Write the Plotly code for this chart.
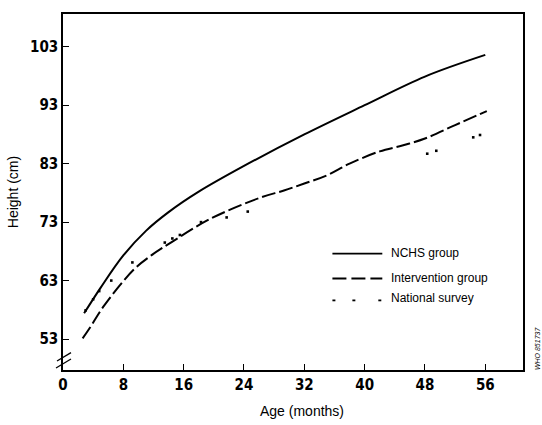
import plotly.graph_objects as go

# ---- data ----
nchs_age = [2.8, 5.0, 8.0, 11.0, 14.0, 18.0, 24, 32, 40, 48, 56]
nchs_height = [57.4, 61.8, 67.3, 71.5, 74.7, 78.2, 82.6, 88.0, 93.0, 97.9, 101.6]

interv_age = [2.6, 3.5, 5.5, 9.4, 11.7, 14.3, 19.6, 26.2, 29.3, 32, 35, 38, 42, 45, 48, 52, 56.2]
interv_height = [53.1, 54.8, 58.8, 64.9, 67.3, 69.5, 73.6, 77.2, 78.4, 79.6, 81.0, 83.0, 85.1, 86.1, 87.3, 89.6, 92.0]

survey_age = [3.0, 4.0, 4.8, 6.4, 9.2, 13.5, 14.5, 15.5, 18.3, 21.7, 24.5, 48.3, 49.5, 54.4, 55.3]
survey_height = [57.9, 59.8, 61.2, 63.0, 66.1, 69.5, 70.2, 70.8, 73.0, 73.8, 74.8, 84.7, 85.2, 87.5, 87.9]

x_ticks = [0, 8, 16, 24, 32, 40, 48, 56]
y_ticks = [53, 63, 73, 83, 93, 103]

legend_labels = ["NCHS group", "Intervention group", "National survey"]

W, H = 542, 425
ML, MR, MT, MB = 62, 19, 12, 55
PW, PH = W - ML - MR, H - MT - MB


def px(x):
    return (x - ML) / PW


def py(y):
    return (H - MB - y) / PH


fig = go.Figure()
fig.add_trace(go.Scatter(x=nchs_age, y=nchs_height, mode="lines",
                         line=dict(color="black", width=2, shape="spline", smoothing=1.0),
                         showlegend=False))
fig.add_trace(go.Scatter(x=interv_age, y=interv_height, mode="lines",
                         line=dict(color="black", width=2, shape="spline", smoothing=1.0, dash="14px,4px"),
                         showlegend=False))
fig.add_trace(go.Scatter(x=survey_age, y=survey_height, mode="markers",
                         marker=dict(color="black", size=2.6, symbol="square"),
                         showlegend=False))

tickfont = dict(family="Liberation Sans Narrow, DejaVu Sans Condensed, Arial Narrow, sans-serif",
                size=15, color="black", weight="bold")

fig.update_xaxes(range=[0, 61], tickvals=x_ticks, ticktext=[str(v) for v in x_ticks],
                 showline=True, linecolor="black", linewidth=1.5, mirror=True,
                 ticks="inside", ticklen=6, tickcolor="black", tickwidth=1,
                 showgrid=False, zeroline=False, tickfont=tickfont)
fig.update_yaxes(range=[47.7, 108.6], tickvals=y_ticks, ticktext=[str(v) for v in y_ticks],
                 showline=True, linecolor="black", linewidth=1.5, mirror=True,
                 ticks="inside", ticklen=6, tickcolor="black", tickwidth=1,
                 showgrid=False, zeroline=False, tickfont=tickfont,
                 title=dict(text="Height (cm)", font=dict(family="Liberation Sans, Arial, sans-serif", size=14, color="black"),
                            standoff=8))

shapes = []
# axis break marks
shapes.append(dict(type="line", xref="paper", yref="paper", x0=px(56), y0=py(361), x1=px(70), y1=py(352.5),
                   line=dict(color="black", width=1.3)))
shapes.append(dict(type="line", xref="paper", yref="paper", x0=px(55), y0=py(368), x1=px(70), y1=py(359),
                   line=dict(color="black", width=1.3)))
# legend samples
shapes.append(dict(type="line", xref="paper", yref="paper", x0=px(332), y0=py(253), x1=px(382), y1=py(253),
                   line=dict(color="black", width=1.8)))
shapes.append(dict(type="line", xref="paper", yref="paper", x0=px(332), y0=py(278), x1=px(382), y1=py(278),
                   line=dict(color="black", width=1.8, dash="14px,5px")))
for sx in (332, 352, 378):
    shapes.append(dict(type="line", xref="paper", yref="paper", x0=px(sx), y0=py(300), x1=px(sx + 3), y1=py(300),
                       line=dict(color="black", width=1.8)))

annotations = []
for lab, ly in zip(legend_labels, (252, 277, 298)):
    annotations.append(dict(text=lab, xref="paper", yref="paper", x=px(389), y=py(ly),
                            xanchor="left", yanchor="middle", showarrow=False,
                            font=dict(family="Liberation Sans, Arial, sans-serif", size=12, color="black")))
annotations.append(dict(text="Age (months)", xref="paper", yref="paper", x=px(302), y=py(411),
                        xanchor="center", yanchor="middle", showarrow=False,
                        font=dict(family="Liberation Sans, Arial, sans-serif", size=14, color="black")))
annotations.append(dict(text="<i>WHO 851737</i>", xref="paper", yref="paper", x=px(537), y=py(348),
                        xanchor="center", yanchor="middle", showarrow=False, textangle=-90,
                        font=dict(family="Liberation Sans Narrow, Liberation Sans, sans-serif", size=7, color="black")))

fig.update_layout(width=W, height=H, margin=dict(l=ML, r=MR, t=MT, b=MB),
                  paper_bgcolor="white", plot_bgcolor="white",
                  shapes=shapes, annotations=annotations, showlegend=False)

fig.write_html("out.html")
